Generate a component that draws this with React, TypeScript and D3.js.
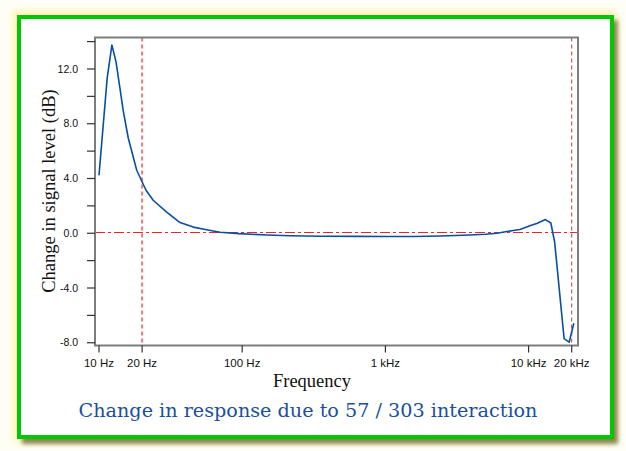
import React from 'react';
import * as d3 from 'd3';

// frequency (Hz) and change in level (dB)
const freqs = [10, 11.4, 12.3, 13.15, 14.0, 14.78, 16.02, 18.34, 21.3, 23.9, 29.7, 36.8, 45.6, 56.5, 70, 95, 148, 216, 350, 630, 1000, 1600, 2400, 3500, 5000, 6000, 7800, 8700, 10200, 11400, 13100, 14300, 15200, 17700, 19200, 20700];
const levels = [4.24, 11.31, 13.75, 12.52, 10.6, 8.92, 6.94, 4.6, 3.14, 2.41, 1.55, 0.78, 0.45, 0.26, 0.07, -0.03, -0.13, -0.18, -0.22, -0.23, -0.24, -0.24, -0.2, -0.15, -0.07, 0.0, 0.2, 0.28, 0.55, 0.72, 1.0, 0.75, -0.64, -7.7, -7.96, -6.57];

const xTicks = [10, 20, 100, 1000, 10000, 20000];
const xTickLabels = ['10 Hz', '20 Hz', '100 Hz', '1 kHz', '10 kHz', '20 kHz'];
const yMajor = [-8, -4, 0, 4, 8, 12];
const yMinor = [-6, -2, 2, 6, 10, 14];

const W = 626;
const H = 451;
const frameColor = '#7d7d7d';
const lineColor = '#0a4ea4';
const refColor = '#ec2424';
const titleColor = '#1a4f9e';

export default function App() {
  const left = 95, right = 578, top = 37.5, bottom = 345.5;

  // log scale, 10 Hz at x=99 and 143.2 px per decade
  const px = (p: number) => 10 * Math.pow(10, (p - 99) / 143.2);
  const x = d3.scaleLog().domain([px(left), px(right)]).range([left, right]);
  const y = d3.scaleLinear().domain([-8.2, 14.3]).range([bottom, top]);

  const pts: [number, number][] = freqs.map((f, i) => [f, levels[i]]);
  const line = d3.line<[number, number]>()
    .x(d => x(d[0]))
    .y(d => y(d[1]));

  const sans = 'Liberation Sans, Arial, sans-serif';
  const serif = 'Liberation Serif, Times New Roman, serif';

  return (
    <div style={{ position: 'fixed', left: 0, top: 0 }}>
      <svg width={W} height={H} style={{ display: 'block' }}>
        <defs>
          <filter id="blur3" x="-10%" y="-10%" width="120%" height="120%">
            <feGaussianBlur stdDeviation="3" />
          </filter>
          <filter id="blur2" x="-10%" y="-10%" width="120%" height="120%">
            <feGaussianBlur stdDeviation="2" />
          </filter>
        </defs>
        <rect x={0} y={0} width={W} height={H} fill="#fffef6" />
        {/* yellow glow + shadow round the card */}
        <rect x={12} y={10} width={604} height={432} fill="#fff6bc" filter="url(#blur3)" />
        <rect x={22} y={20} width={596} height={424} fill="#8c8650" filter="url(#blur2)" />
        <rect x={19} y={17} width={593} height={420} fill="#ffffff" stroke="#00c800" strokeWidth={4} />

        {/* reference lines */}
        <line x1={left} x2={right} y1={Math.round(y(0)) - 0.5} y2={Math.round(y(0)) - 0.5} stroke={refColor} strokeWidth={1.1} strokeDasharray="10,3,3,3" />
        <line x1={x(20)} x2={x(20)} y1={top} y2={bottom} stroke="#f07a7a" strokeWidth={2} strokeDasharray="4,3" />
        <line x1={x(20000)} x2={x(20000)} y1={top} y2={bottom} stroke="#b83a3a" strokeWidth={1} strokeDasharray="4,3" />

        {/* frame */}
        <path d={`M${left},${top} H${right} V${bottom} H${left} Z`} fill="none" stroke={frameColor} strokeWidth={2} />

        {/* y ticks */}
        {yMajor.concat(yMinor).map(v => (
          <line key={'yt' + v} x1={left - 8} x2={left} y1={y(v)} y2={y(v)} stroke="#333" strokeWidth={1.2} />
        ))}
        {yMajor.map(v => (
          <text key={'yl' + v} x={left - 17} y={y(v)} dy="0.35em" textAnchor="end" fontFamily={sans} fontSize={10.5} fill="#111">
            {v.toFixed(1)}
          </text>
        ))}

        {/* x ticks */}
        {xTicks.map((t, i) => (
          <g key={'xt' + t}>
            <line x1={x(t)} x2={x(t)} y1={bottom} y2={bottom + 7} stroke="#333" strokeWidth={1.2} />
            <text x={x(t)} y={367} textAnchor="middle" fontFamily={sans} fontSize={11.5} fill="#111">
              {xTickLabels[i]}
            </text>
          </g>
        ))}

        {/* data */}
        <path d={line(pts) || ''} fill="none" stroke={lineColor} strokeWidth={1.6} strokeLinejoin="round" />

        {/* axis titles */}
        <text transform="translate(55,191) rotate(-90)" textAnchor="middle" fontFamily={serif} fontSize={18.5} fill="#111">
          Change in signal level (dB)
        </text>
        <text x={312} y={387} textAnchor="middle" fontFamily={serif} fontSize={18.5} fill="#111">
          Frequency
        </text>
        <text x={308} y={417} textAnchor="middle" fontFamily="DejaVu Serif, serif" fontSize={19.2} fill={titleColor}>
          Change in response due to 57 / 303 interaction
        </text>
      </svg>
    </div>
  );
}
